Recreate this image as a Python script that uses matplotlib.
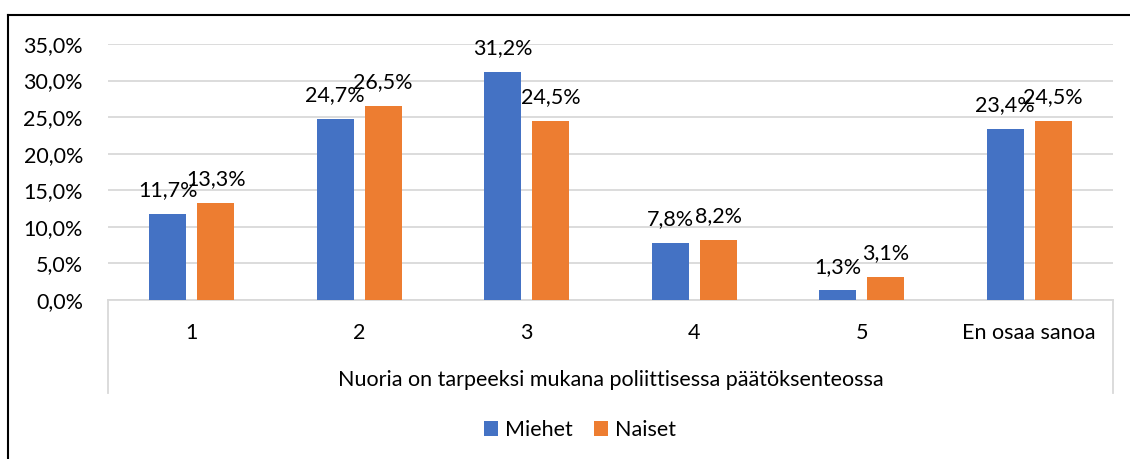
import matplotlib.pyplot as plt
import numpy as np
from matplotlib.lines import Line2D
from matplotlib.ticker import FuncFormatter, MultipleLocator

categories = ['1', '2', '3', '4', '5', 'En osaa sanoa']
miehet = [11.7, 24.7, 31.2, 7.8, 1.3, 23.4]
naiset = [13.3, 26.5, 24.5, 8.2, 3.1, 24.5]
series_names = ['Miehet', 'Naiset']
axis_title = 'Nuoria on tarpeeksi mukana poliittisessa päätöksenteossa'

blue = '#4472C4'
orange = '#ED7D31'
grid_grey = '#D9D9D9'
fs = 15.5

plt.rcParams['font.family'] = ['Lato', 'DejaVu Sans']

fig = plt.figure(figsize=(11.3, 4.59), dpi=100)
ax = fig.add_axes([108 / 1130, 1 - 300 / 459, (1113 - 108) / 1130, (300 - 44) / 459])

x = np.arange(len(categories))
w = 0.22
off = 0.143
b1 = ax.bar(x - off, miehet, w, color=blue, label=series_names[0], zorder=3)
b2 = ax.bar(x + off, naiset, w, color=orange, label=series_names[1], zorder=3)


def fmt(v):
    return '{:.1f}%'.format(v).replace('.', ',')


for bars, vals in [(b1, miehet), (b2, naiset)]:
    for rect, v in zip(bars, vals):
        ax.annotate(fmt(v), (rect.get_x() + rect.get_width() / 2, v),
                    xytext=(0, 10), textcoords='offset points',
                    ha='center', va='bottom', fontsize=fs, zorder=5)

ax.set_xlim(-0.5, len(categories) - 0.5)
ax.set_ylim(0, 35)
ax.yaxis.set_major_locator(MultipleLocator(5))
ax.yaxis.set_major_formatter(FuncFormatter(lambda v, p: fmt(v)))
ax.tick_params(axis='y', length=0, pad=18, labelsize=fs)
ax.set_xticks([])
ax.grid(axis='y', color=grid_grey, linewidth=1.3, zorder=0)
for s in ['top', 'right', 'left']:
    ax.spines[s].set_visible(False)
ax.spines['bottom'].set_color(grid_grey)
ax.spines['bottom'].set_linewidth(1.3)

# multi-level category axis
trans = ax.get_xaxis_transform()
for i, c in enumerate(categories):
    ax.text(i, -33 / 256, c, transform=trans, ha='center', va='center', fontsize=fs)
ax.text(0.5, -80 / 256, axis_title, transform=ax.transAxes,
        ha='center', va='center', fontsize=fs)
for xa in [0, 1]:
    ax.add_line(Line2D([xa, xa], [0, -93 / 256], transform=ax.transAxes,
                       color=grid_grey, linewidth=1.3, clip_on=False))

fig.legend(loc='center', bbox_to_anchor=(580 / 1130, 1 - 430 / 459), ncol=2,
           frameon=False, fontsize=fs, handlelength=0.65, handleheight=0.65,
           handletextpad=0.3, columnspacing=1.0)

# outer border
fig.add_artist(Line2D([8 / 1130, 8 / 1130], [0, 1 - 15 / 459], color='black', linewidth=1.5))
fig.add_artist(Line2D([8 / 1130, 1], [1 - 15 / 459, 1 - 15 / 459], color='black', linewidth=1.5))

fig.savefig('out.png', dpi=100)
